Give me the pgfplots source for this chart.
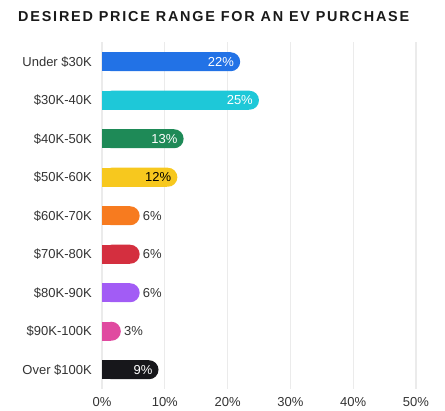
\documentclass[border=0pt]{standalone}
\usepackage{fontspec}
\setmainfont{Liberation Sans}
\usepackage{pgfplots}
\usepackage{pgfplotstable}
\pgfplotsset{compat=1.18}
\definecolor{cA}{HTML}{2272E6}
\definecolor{cB}{HTML}{1EC8D8}
\definecolor{cC}{HTML}{1E8A57}
\definecolor{cD}{HTML}{F7C81E}
\definecolor{cE}{HTML}{F77B1F}
\definecolor{cF}{HTML}{D42F3F}
\definecolor{cG}{HTML}{A25CF5}
\definecolor{cH}{HTML}{E04AA0}
\definecolor{cI}{HTML}{17171B}
\definecolor{gridc}{HTML}{EBEBEB}
\definecolor{txt}{HTML}{333333}
\tikzset{inlab/.style={anchor=east, inner sep=0pt, xshift=-6pt, text=white},
         inlabdark/.style={anchor=east, inner sep=0pt, xshift=-6pt, text=black},
         outlab/.style={anchor=west, inner sep=0pt, xshift=3pt, text=txt}}
\newcommand\evbar[4]{%
  \addplot[xbar, bar width=19pt, bar shift=0pt, fill=#3, draw=none]
    table[row sep=\\, header=false, x expr=\thisrowno{1}-1.6, y index=0] {#1 #2\\};
  \addplot[xbar, bar width=19pt, bar shift=0pt, fill=#3, draw=none, rounded corners=9.5pt,
    nodes near coords={\pgfmathprintnumber{\pgfplotspointmeta}\%},
    nodes near coords align=horizontal,
    every node near coord/.append style={#4, font=\fontsize{13}{15}\selectfont}]
    coordinates {(#2,#1)};
}
\begin{document}
\begin{tikzpicture}
\begin{axis}[
  at={(102pt,22pt)}, anchor=south west,
  scale only axis, width=314pt, height=346.5pt,
  xmin=0, xmax=50, ymin=-0.5, ymax=8.5, y dir=reverse,
  xtick={0,10,...,50},
  xticklabel={\pgfmathprintnumber{\tick}\%},
  ytick={0,...,8},
  yticklabels={Under \$30K,\$30K-40K,\$40K-50K,\$50K-60K,\$60K-70K,\$70K-80K,\$80K-90K,\$90K-100K,Over \$100K},
  /pgf/number format/assume math mode=true,
  xmajorgrids, major grid style={gridc, line width=1.2pt},
  axis line style={draw=none}, tick style={draw=none},
  xticklabel style={inner sep=0pt, anchor=north, yshift=-8pt, text=txt, font=\fontsize{13}{15}\selectfont},
  yticklabel style={inner sep=0pt, anchor=east, xshift=-10pt, text=txt, font=\fontsize{13}{15}\selectfont},
  clip=false,
]
\evbar{0}{22}{cA}{inlab}
\evbar{1}{25}{cB}{inlab}
\evbar{2}{13}{cC}{inlab}
\evbar{3}{12}{cD}{inlabdark}
\evbar{4}{6}{cE}{outlab}
\evbar{5}{6}{cF}{outlab}
\evbar{6}{6}{cG}{outlab}
\evbar{7}{3}{cH}{outlab}
\evbar{8}{9}{cI}{inlab}
\end{axis}
\node[anchor=base west, inner sep=0pt, text=black!90] at (18pt,389pt)
  {\fontsize{14.4}{16}\selectfont\bfseries\addfontfeatures{LetterSpace=12.5}DESIRED PRICE RANGE FOR AN EV PURCHASE};
\pgfresetboundingbox
\path (0,0) rectangle (445pt,411pt);
\end{tikzpicture}
\end{document}
